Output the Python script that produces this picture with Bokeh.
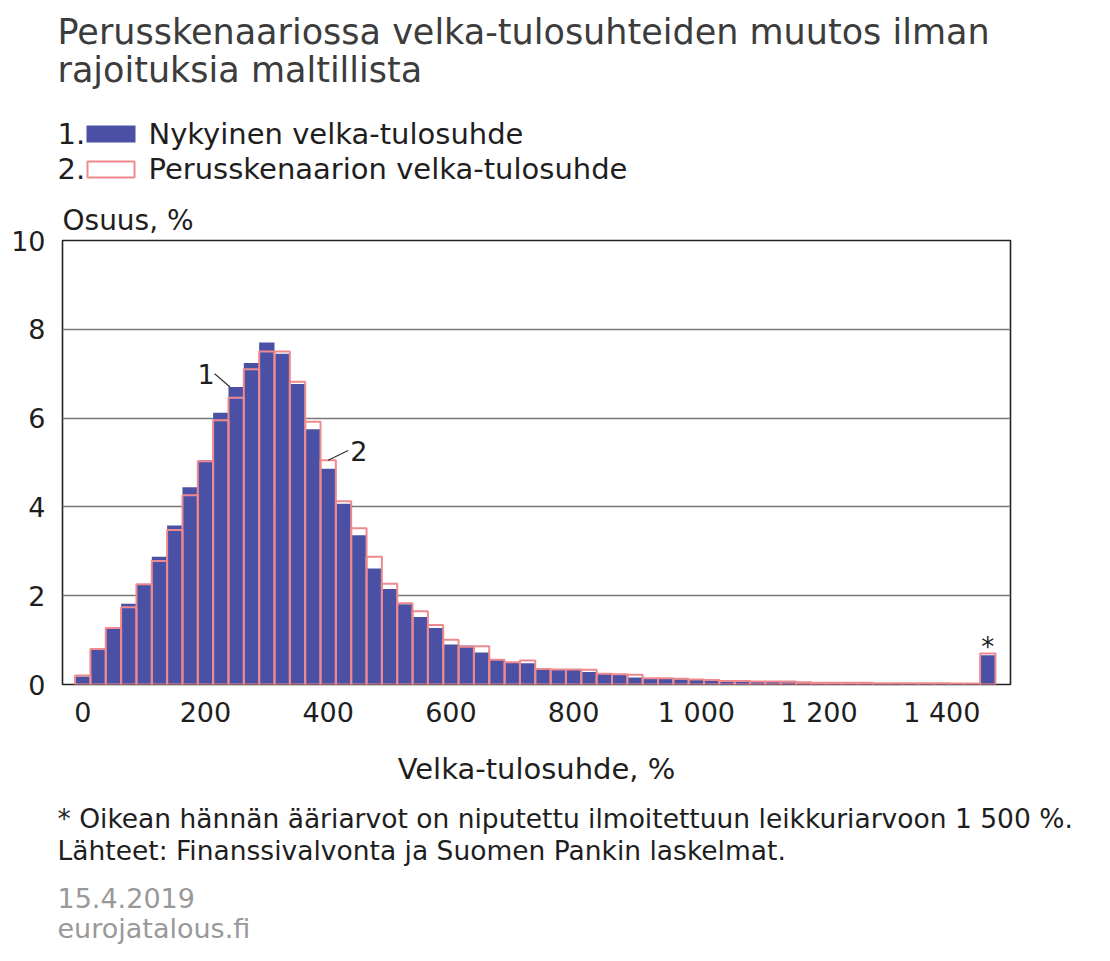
from bokeh.plotting import figure
from bokeh.layouts import column
from bokeh.models import Label, FixedTicker, Range1d, ColumnDataSource, Title
from bokeh.core.properties import value
from bokeh.embed import file_html
from bokeh.resources import INLINE

# ---------------- data ----------------
bin_width = 25
bin_centers = list(range(0, 1500, 25))  # 60 bins, last one = capped tail
current = [0.18, 0.79, 1.26, 1.82, 2.26, 2.88, 3.58, 4.44, 5.05, 6.12,
           6.70, 7.24, 7.70, 7.45, 6.77, 5.75, 4.86, 4.07, 3.36, 2.61,
           2.15, 1.81, 1.52, 1.27, 0.90, 0.88, 0.72, 0.56, 0.50, 0.48,
           0.35, 0.34, 0.34, 0.28, 0.24, 0.23, 0.16, 0.13, 0.13, 0.12,
           0.10, 0.09, 0.07, 0.06, 0.06, 0.06, 0.05, 0.04, 0.04, 0.03,
           0.03, 0.03, 0.03, 0.02, 0.02, 0.02, 0.02, 0.02, 0.02, 0.66]
scenario = [0.20, 0.80, 1.27, 1.74, 2.26, 2.78, 3.48, 4.26, 5.03, 5.95,
            6.46, 7.10, 7.50, 7.50, 6.82, 5.92, 5.05, 4.13, 3.52, 2.88,
            2.27, 1.83, 1.65, 1.34, 1.01, 0.85, 0.86, 0.56, 0.50, 0.54,
            0.35, 0.34, 0.34, 0.33, 0.24, 0.23, 0.22, 0.14, 0.14, 0.13,
            0.11, 0.10, 0.08, 0.08, 0.07, 0.07, 0.07, 0.05, 0.04, 0.04,
            0.04, 0.04, 0.03, 0.03, 0.03, 0.03, 0.03, 0.02, 0.02, 0.70]
y_ticks = [0, 2, 4, 6, 8, 10]
x_tick_values = [0, 200, 400, 600, 800, 1000, 1200, 1400]
x_tick_labels = ["0", "200", "400", "600", "800", "1 000", "1 200", "1 400"]

title_lines = ["Perusskenaariossa velka-tulosuhteiden muutos ilman",
               "rajoituksia maltillista"]
legend_numbers = ["1.", "2."]
legend_labels = ["Nykyinen velka-tulosuhde", "Perusskenaarion velka-tulosuhde"]
y_title = "Osuus, %"
x_title = "Velka-tulosuhde, %"
footnotes = ["* Oikean hännän ääriarvot on niputettu ilmoitettuun leikkuriarvoon 1 500 %.",
             "Lähteet: Finanssivalvonta ja Suomen Pankin laskelmat."]
date_text = "15.4.2019"
site_text = "eurojatalous.fi"

# ---------------- style ----------------
FONT = "DejaVu Sans"
BLUE = "#4a50a4"
PINK = "#ee8a8e"
DARK = "#1e1e1e"
GREY = "#999999"
W = 1094
HEAD_H = 196          # header panel: title, legend
MAIN_TOP = HEAD_H
FOOT_TOP = 795
TOTAL_H = 945


def no_align(f):
    if "frame_align" in f.properties():
        f.frame_align = False


def blank_fig(h):
    f = figure(width=W, height=h, output_backend="svg", toolbar_location=None,
               x_range=Range1d(0, W), y_range=Range1d(h, 0),
               x_axis_location=None, y_axis_location=None,
               min_border=0, min_border_left=0, min_border_right=0,
               min_border_top=0, min_border_bottom=0)
    f.grid.visible = False
    f.outline_line_color = None
    f.background_fill_color = "white"
    f.border_fill_color = "white"
    no_align(f)
    return f


def txt(f, xs, ys, texts, size, color=DARK, align="left"):
    f.text(x=xs, y=ys, text=texts, text_font=value(FONT),
           text_font_size=value(size), text_color=color,
           text_align=align, text_baseline="middle")


# ---------------- header ----------------
head = blank_fig(HEAD_H)
txt(head, [57, 57], [31, 69], title_lines, "35px", color="#3c3c3c")
txt(head, [57, 57], [133, 168], legend_numbers, "29px")
txt(head, [148, 148], [133, 168], legend_labels, "29px")
head.quad(left=[86], right=[135], top=[125], bottom=[142],
          fill_color=BLUE, line_color=None)
head.quad(left=[87], right=[134], top=[161], bottom=[177],
          fill_color=None, line_color=PINK, line_width=2)

# ---------------- main chart ----------------
ML, FW, FH = 62, 948, 444
MT = 240 - MAIN_TOP
MAIN_H = FOOT_TOP - MAIN_TOP
MR, MB = W - ML - FW, MAIN_H - MT - FH

p = figure(width=W, height=MAIN_H, output_backend="svg", toolbar_location=None,
           x_range=Range1d(-33, 1512), y_range=Range1d(0, 10),
           min_border_left=ML, min_border_right=MR,
           min_border_top=MT, min_border_bottom=MB)
no_align(p)
p.background_fill_color = "white"
p.border_fill_color = "white"
p.outline_line_color = "#222222"
p.outline_line_width = 1.6
p.add_layout(Title(text=y_title, align="left", offset=0, standoff=8,
                   text_font=FONT, text_font_size="28px", text_font_style="normal",
                   text_color=DARK), "above")

src = ColumnDataSource(dict(x=bin_centers, cur=current, scen=scenario))
p.vbar(x="x", top="cur", width=bin_width, bottom=0, source=src,
       fill_color=BLUE, line_color=None)
p.vbar(x="x", top="scen", width=bin_width, bottom=0, source=src,
       fill_color=None, line_color=PINK, line_width=2)

p.xgrid.visible = False
p.ygrid.ticker = FixedTicker(ticks=y_ticks)
p.ygrid.grid_line_color = "#777777"
p.ygrid.grid_line_width = 1.5
p.ygrid.level = "underlay"

for ax in (p.xaxis, p.yaxis):
    ax.axis_line_color = None
    ax.major_tick_line_color = None
    ax.minor_tick_line_color = None
    ax.major_tick_in = 0
    ax.major_tick_out = 0
    ax.major_label_text_font = FONT
    ax.major_label_text_font_size = "27px"
    ax.major_label_text_color = DARK
p.yaxis.ticker = FixedTicker(ticks=y_ticks)
p.yaxis.major_label_standoff = 17
p.xaxis.ticker = FixedTicker(ticks=x_tick_values)
p.xaxis.major_label_overrides = {v: l for v, l in zip(x_tick_values, x_tick_labels)}
p.xaxis.major_label_standoff = 12
p.xaxis.axis_label = x_title
p.xaxis.axis_label_text_font = FONT
p.xaxis.axis_label_text_font_size = "29px"
p.xaxis.axis_label_text_font_style = "normal"
p.xaxis.axis_label_text_color = DARK
p.xaxis.axis_label_standoff = 21

# in-plot annotations (anchored to the bars they point at)
i1, i2, ilast = 10, 16, len(bin_centers) - 1
x1 = bin_centers[i1] - bin_width * 0.4
p.segment(x0=[x1], y0=[current[i1]], x1=[x1 - bin_width * 1.0], y1=[current[i1] + 0.3],
          line_color="#333333", line_width=1.2)
p.add_layout(Label(x=x1 - bin_width * 1.0, y=current[i1] + 0.3, text="1",
                   text_font=FONT, text_font_size="27px", text_color=DARK,
                   text_align="right", text_baseline="middle", x_offset=0))
x2 = bin_centers[i2]
p.segment(x0=[x2], y0=[scenario[i2]], x1=[x2 + bin_width * 1.3], y1=[scenario[i2] + 0.22],
          line_color="#333333", line_width=1.2)
p.add_layout(Label(x=x2 + bin_width * 1.3, y=scenario[i2] + 0.22, text="2",
                   text_font=FONT, text_font_size="27px", text_color=DARK,
                   text_align="left", text_baseline="middle", x_offset=2))
p.add_layout(Label(x=bin_centers[ilast], y=scenario[ilast], text="*",
                   text_font=FONT, text_font_size="26px", text_color=DARK,
                   text_align="center", text_baseline="bottom", y_offset=-9))

# ---------------- footer ----------------
FOOT_H = TOTAL_H - FOOT_TOP
foot = blank_fig(FOOT_H)
txt(foot, [57, 57], [818 - FOOT_TOP, 850 - FOOT_TOP], footnotes, "26.5px")
txt(foot, [57, 57], [897 - FOOT_TOP, 928 - FOOT_TOP], [date_text, site_text], "27px", color=GREY)

layout = column(head, p, foot, spacing=0)
open("out.html", "w").write(file_html(layout, INLINE))
